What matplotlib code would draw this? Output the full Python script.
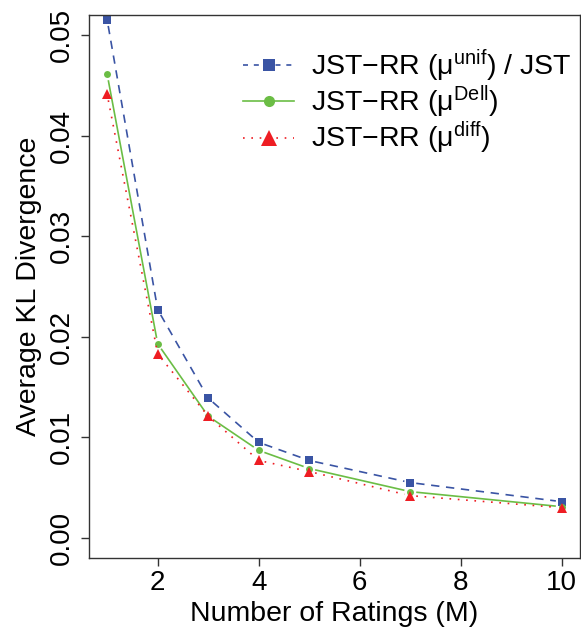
import numpy as np
import matplotlib
matplotlib.use("Agg")
import matplotlib.pyplot as plt
from matplotlib.lines import Line2D

plt.rcParams['font.family'] = ['Liberation Sans', 'DejaVu Sans']
plt.rcParams['mathtext.fontset'] = 'custom'
plt.rcParams['mathtext.rm'] = 'Liberation Sans'
plt.rcParams['mathtext.it'] = 'Liberation Sans'
plt.rcParams['mathtext.bf'] = 'Liberation Sans:bold'

# ---- data ----
M = [1, 2, 3, 4, 5, 7, 10]
kl_unif = [0.0515, 0.0227, 0.0139, 0.0095, 0.0077, 0.0055, 0.0036]
kl_dell = [0.0461, 0.0193, 0.0121, 0.0087, 0.0069, 0.0046, 0.0031]
kl_diff = [0.0441, 0.0183, 0.0121, 0.0077, 0.0066, 0.0042, 0.0030]
labels = ["JST\u2212RR ($\\mathregular{\\mu^{unif}}$) / JST",
          "JST\u2212RR ($\\mathregular{\\mu^{Dell}}$)",
          "JST\u2212RR ($\\mathregular{\\mu^{diff}}$)"]
xticks = [2, 4, 6, 8, 10]
yticks = [0.00, 0.01, 0.02, 0.03, 0.04, 0.05]

blue = '#3A54A4'
green = '#6BBD45'
red = '#EE1D23'

W, H = 581, 633
fig = plt.figure(figsize=(W / 100, H / 100), dpi=100)
ax = fig.add_axes([89 / W, 1 - 558 / H, (580 - 89) / W, (558 - 15) / H])
ax.set_xlim(0.64, 10.36)
ax.set_ylim(-0.002, 0.052)

series = [
    (kl_unif, blue, (0, (5, 4)), 's', 5.2),
    (kl_dell, green, '-', 'o', 5.0),
    (kl_diff, red, (0, (1, 4)), '^', 6.5),
]

gap = 6.0  # pixels, like R type="b"
fig.canvas.draw()
for ys, col, ls, mk, ms in series:
    pts = ax.transData.transform(np.column_stack([M, ys]))
    for i in range(len(pts) - 1):
        p0, p1 = pts[i], pts[i + 1]
        d = p1 - p0
        L = np.hypot(*d)
        if L <= 2 * gap:
            continue
        u = d / L
        a = ax.transData.inverted().transform(p0 + u * gap)
        b = ax.transData.inverted().transform(p1 - u * gap)
        ax.plot([a[0], b[0]], [a[1], b[1]], color=col, ls=ls, lw=1.2,
                solid_capstyle='butt', dash_capstyle='butt')
    ax.plot(M, ys, ls='none', marker=mk, ms=ms, color=col, mec=col, mew=0)

for s in ax.spines.values():
    s.set_color('#333333')
    s.set_linewidth(1.0)

ax.set_xticks(xticks)
ax.set_xticklabels([str(v) for v in xticks])
ax.set_yticks(yticks)
ax.set_yticklabels([f"{v:.2f}" for v in yticks], rotation=90, va='center')
ax.tick_params(axis='both', direction='out', length=6, width=1.0,
               color='#333333', labelsize=20)
ax.tick_params(axis='x', pad=3)
ax.tick_params(axis='y', pad=4)

ax.set_xlabel("Number of Ratings (M)", fontsize=20.5, labelpad=3)
ax.set_ylabel("Average KL Divergence", fontsize=20.5, labelpad=5)

handles = [
    Line2D([], [], color=blue, ls=(0, (3, 3.5)), lw=1.2, marker='s', ms=8.5, mew=0),
    Line2D([], [], color=green, ls='-', lw=1.2, marker='o', ms=8, mew=0),
    Line2D([], [], color=red, ls=(0, (1, 4)), lw=1.2, marker='^', ms=11, mew=0),
]
fig.legend(handles, labels, loc='upper left', bbox_to_anchor=(243 / W, 1 - 47 / H),
           frameon=False, fontsize=20.5, handlelength=1.8, handletextpad=0.6,
           labelspacing=0.0, borderpad=0, borderaxespad=0)

fig.savefig("out.png", dpi=100)
